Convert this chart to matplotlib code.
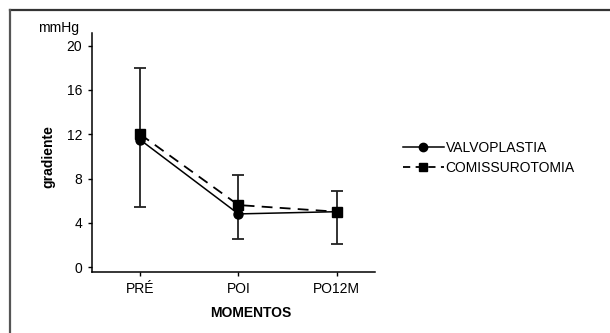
import matplotlib
matplotlib.use('Agg')
import matplotlib.pyplot as plt
from matplotlib.lines import Line2D

plt.rcParams['font.family'] = ['Liberation Sans', 'DejaVu Sans']

momentos = ['PRÉ', 'POI', 'PO12M']
valvoplastia = [11.5, 4.8, 5.0]
comissurotomia = [12.0, 5.6, 5.0]
# error bar ends
err_low = [5.4, 2.5, 2.1]
err_high = [18.0, 8.3, 6.9]
yticks = [0, 4, 8, 12, 16, 20]

fig = plt.figure(figsize=(6.1, 3.33), dpi=100)
ax = fig.add_axes([92/610, 1 - 272/333, (375-92)/610, (272-33)/333])

x = list(range(len(momentos)))
lo = [c - l for c, l in zip(comissurotomia, err_low)]
hi = [h - c for c, h in zip(comissurotomia, err_high)]
ax.errorbar(x, comissurotomia, yerr=[lo, hi], fmt='none', ecolor='#222222',
            elinewidth=1.3, capsize=4, capthick=1.3, zorder=2)
ax.plot(x, valvoplastia, '-', color='black', lw=1.1, marker='o', ms=6.5, zorder=3)
ax.plot(x, comissurotomia, '--', color='black', lw=1.3, marker='s', ms=6.5,
        dashes=(6, 4), zorder=3)

ax.set_xlim(-0.49, 2.39)
ax.set_ylim(-0.45, 21.15)
ax.set_xticks(x)
ax.set_xticklabels(momentos)
ax.set_yticks(yticks)
ax.tick_params(labelsize=10, length=3, width=1, direction='out', pad=4)
for s in ['top', 'right']:
    ax.spines[s].set_visible(False)
for s in ['left', 'bottom']:
    ax.spines[s].set_linewidth(1.1)

fig.text(38/610, 1 - 28/333, 'mmHg', fontsize=10, va='center', ha='left')
fig.text(48/610, 1 - 157/333, 'gradiente', fontsize=10, fontweight='bold',
         rotation=90, va='center', ha='center')
fig.text(251/610, 1 - 313/333, 'MOMENTOS', fontsize=10, fontweight='bold',
         va='center', ha='center')

handles = [
    Line2D([], [], color='black', lw=1.1, marker='o', ms=6),
    Line2D([], [], color='black', lw=1.3, ls='--', marker='s', ms=6, dashes=(4, 3)),
]
fig.legend(handles, ['VALVOPLASTIA', 'COMISSUROTOMIA'], loc='center left',
           bbox_to_anchor=(390/610, 1 - 158/333), frameon=False, fontsize=10,
           handlelength=3.0, handletextpad=0.1, labelspacing=0.45)

# page frame (top and left edges)
fig.add_artist(Line2D([9.5/610, 1], [1 - 9.5/333, 1 - 9.5/333],
                      transform=fig.transFigure, color='#333333', lw=1.6))
fig.add_artist(Line2D([9.5/610, 9.5/610], [0, 1 - 9.5/333],
                      transform=fig.transFigure, color='#555555', lw=1.6))

fig.savefig('out.png', dpi=100)
